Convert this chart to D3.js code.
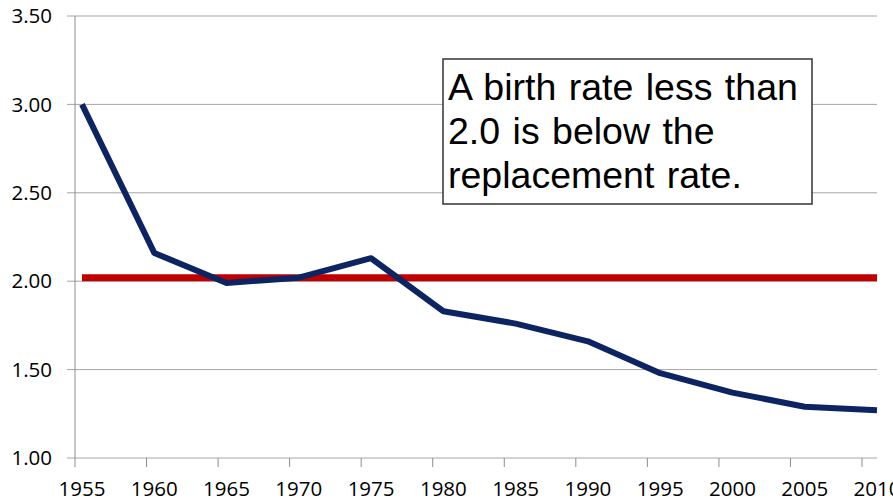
<!DOCTYPE html>
<html>
<head>
<meta charset="utf-8">
<script src="https://cdn.jsdelivr.net/npm/d3@7"></script>
<style>
  body { margin: 0; background: #fff; }
  svg { display: block; }
</style>
</head>
<body>
<svg width="893" height="501"></svg>
<script>
// data
var years = [1955, 1960, 1965, 1970, 1975, 1980, 1985, 1990, 1995, 2000, 2005, 2010];
var birthRate = [3.00, 2.16, 1.99, 2.02, 2.13, 1.83, 1.76, 1.66, 1.48, 1.37, 1.29, 1.27];
var replacement = [2.02, 2.02, 2.02, 2.02, 2.02, 2.02, 2.02, 2.02, 2.02, 2.02, 2.02, 2.02];
var yTicks = [1.0, 1.5, 2.0, 2.5, 3.0, 3.5];
var note = ["A birth rate less than", "2.0 is below the", "replacement rate."];

var width = 893, height = 501;
var svg = d3.select('svg');

var x = d3.scaleLinear().domain([1955, 2010]).range([82, 877]);
// tick marks sit a little left of the points in the original
var xTick = d3.scaleLinear().domain([1955, 2010]).range([75, 862]);
var y = d3.scaleLinear().domain([1, 3.5]).range([458, 16]);

var axisX0 = 75, plotRight = 877;
var labelStyle = 'font-family: "Open Sans"; font-size: 20.5px; fill: #000';

// gridlines
svg.append('g')
  .selectAll('line')
  .data(yTicks)
  .enter()
  .append('line')
  .attr('x1', axisX0 - 8)
  .attr('x2', plotRight)
  .attr('y1', function(d) { return y(d); })
  .attr('y2', function(d) { return y(d); })
  .attr('stroke', '#a6a6a6')
  .attr('stroke-width', 1);

// y axis line
svg.append('line')
  .attr('x1', axisX0).attr('x2', axisX0)
  .attr('y1', y(3.5)).attr('y2', y(1))
  .attr('stroke', '#8c8c8c');

// x axis ticks
svg.append('g')
  .selectAll('line')
  .data(years)
  .enter()
  .append('line')
  .attr('x1', function(d) { return xTick(d); })
  .attr('x2', function(d) { return xTick(d); })
  .attr('y1', y(1))
  .attr('y2', y(1) + 9)
  .attr('stroke', '#8c8c8c');

// y labels
svg.append('g')
  .selectAll('text')
  .data(yTicks)
  .enter()
  .append('text')
  .attr('x', 52)
  .attr('y', function(d) { return y(d); })
  .attr('dy', '0.35em')
  .attr('text-anchor', 'end')
  .attr('style', labelStyle)
  .text(function(d) { return d.toFixed(2); });

// x labels
svg.append('g')
  .selectAll('text')
  .data(years)
  .enter()
  .append('text')
  .attr('x', function(d) { return x(d); })
  .attr('y', 496)
  .attr('text-anchor', 'middle')
  .attr('style', labelStyle)
  .text(function(d) { return d; });

var line = d3.line()
  .x(function(d, i) { return x(years[i]); })
  .y(function(d) { return y(d); });

// replacement rate line
svg.append('path')
  .datum(replacement)
  .attr('d', line)
  .attr('fill', 'none')
  .attr('stroke', '#c00000')
  .attr('stroke-width', 7);

// birth rate line
svg.append('path')
  .datum(birthRate)
  .attr('d', line)
  .attr('fill', 'none')
  .attr('stroke', '#0d2463')
  .attr('stroke-width', 6)
  .attr('stroke-linejoin', 'round');

// annotation box
var box = svg.append('g');
box.append('rect')
  .attr('x', 443).attr('y', 59)
  .attr('width', 369).attr('height', 145)
  .attr('fill', '#fff')
  .attr('stroke', '#333')
  .attr('stroke-width', 1.5);

box.selectAll('text')
  .data(note)
  .enter()
  .append('text')
  .attr('x', 448)
  .attr('y', function(d, i) { return 100 + i * 44; })
  .attr('style', 'font-family: "Liberation Sans", Arial; font-size: 37.5px; word-spacing: 2px; fill: #000')
  .text(function(d) { return d; });
</script>
</body>
</html>
